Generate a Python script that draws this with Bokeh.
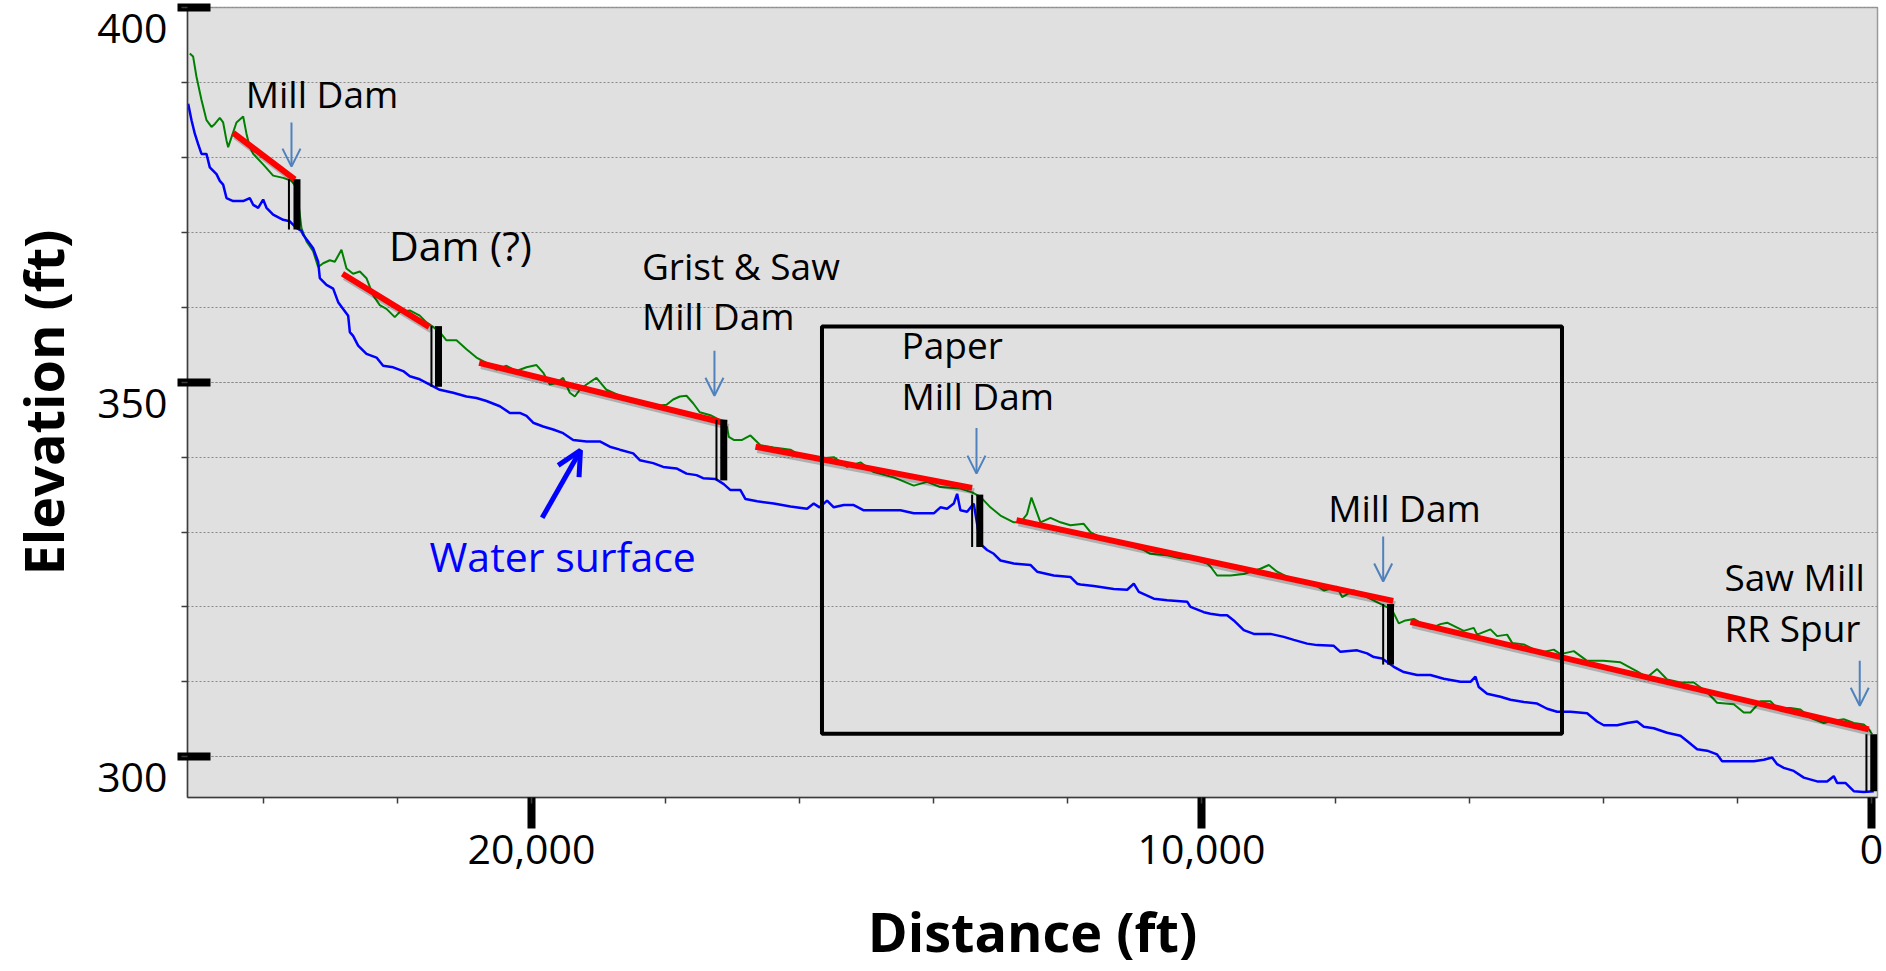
from bokeh.plotting import figure
from bokeh.models import (Range1d, FixedTicker, NumeralTickFormatter, ColumnDataSource,
                          Arrow, OpenHead, LinearAxis)
from bokeh.core.properties import value
from bokeh.embed import file_html
from bokeh.resources import INLINE

# ---------------- data ----------------
ground_ft = [25100, 25050, 25000, 24925, 24850, 24776, 24726, 24652, 24602, 24552, 24527, 24478,
             24403, 24303, 24254, 24204, 24154, 24005, 23856, 23706, 23582, 23507, 23433, 23358,
             23259, 23184, 23109, 23010, 22935, 22836, 22761, 22662, 22562, 22463, 22363, 22264,
             22164, 22040, 21965, 21816, 21667, 21567, 21468, 21368, 21269, 21119, 20970, 20821,
             20671, 20522, 20373, 20224, 20074, 19925, 19826, 19726, 19627, 19527, 19428, 19353,
             19279, 19179, 19030, 18881, 18731, 18582, 18433, 18283, 18184, 17985, 17885, 17786,
             17686, 17587, 17488, 17329, 17180, 17080, 17055, 16981, 16856, 16732, 16583, 16384,
             16135, 15985, 15737, 15488, 15289, 15090, 14891, 14593, 14294, 14095, 13896, 13598,
             13423, 13299, 13150, 13000, 12802, 12700, 12603, 12538, 12403, 12254, 12105, 11956,
             11757, 11657, 11508, 11259, 11010, 10861, 10762, 10513, 10313, 10115, 9916, 9866,
             9767, 9568, 9369, 9120, 8995, 8871, 8672, 8373, 8174, 7975, 7901, 7727, 7528, 7329,
             7155, 7055, 6956, 6831, 6583, 6433, 6334, 6085, 5936, 5886, 5687, 5587, 5438, 5363,
             5189, 4941, 4742, 4642, 4443, 4244, 4000, 3746, 3498, 3348, 3199, 3050, 2851, 2652,
             2453, 2304, 2055, 1906, 1807, 1657, 1508, 1408, 1209, 1060, 911, 712, 563, 413, 264,
             115, 40, -10]
ground_elev = [393.9, 393.5, 390.8, 387.7, 385.0, 384.1, 384.5, 385.3, 384.7, 382.3, 381.4, 382.7,
               384.7, 385.5, 383.2, 381.4, 380.5, 379.1, 377.6, 377.3, 376.9, 376.0, 370.6, 368.8,
               367.5, 365.4, 365.9, 366.3, 366.1, 367.7, 365.2, 364.5, 364.8, 363.9, 361.6, 360.3,
               359.8, 358.7, 359.4, 359.6, 358.9, 358.0, 357.4, 356.7, 355.6, 355.6, 354.4, 353.3,
               352.6, 351.7, 352.2, 351.5, 352.0, 352.3, 351.3, 349.7, 349.9, 350.6, 348.6, 348.1,
               349.0, 349.7, 350.6, 349.0, 348.4, 347.9, 347.5, 347.2, 346.8, 347.0, 347.7, 348.1,
               348.2, 347.2, 346.0, 345.6, 344.9, 344.0, 342.7, 342.3, 342.3, 342.9, 341.6, 341.3,
               341.0, 340.2, 339.8, 340.0, 338.7, 339.3, 338.0, 337.3, 336.2, 336.7, 336.0, 335.8,
               335.3, 334.7, 333.3, 332.2, 331.3, 331.3, 332.4, 334.6, 331.3, 331.9, 331.3, 330.9,
               331.1, 330.0, 329.3, 328.7, 328.0, 327.6, 327.1, 326.9, 326.5, 326.4, 325.8, 325.4,
               324.2, 324.2, 324.4, 325.1, 325.6, 324.7, 323.8, 323.3, 322.2, 322.7, 321.3, 322.2,
               321.3, 320.4, 319.6, 317.8, 318.2, 318.4, 317.1, 317.7, 317.9, 316.8, 317.2, 316.3,
               317.0, 316.1, 316.3, 315.2, 315.0, 313.9, 314.3, 313.7, 314.1, 312.8, 312.8, 312.6,
               311.4, 310.6, 311.7, 310.3, 309.9, 309.9, 308.6, 307.2, 307.0, 305.9, 305.9, 307.4,
               307.4, 306.5, 306.5, 306.3, 305.2, 304.5, 304.8, 305.0, 304.5, 304.3, 303.7, 303.0]

water_ft = [25124, 25074, 25025, 24975, 24925, 24851, 24801, 24701, 24652, 24602, 24552, 24453,
            24303, 24204, 24154, 24079, 24005, 23955, 23856, 23706, 23607, 23507, 23433, 23408,
            23333, 23259, 23184, 23159, 23060, 22960, 22885, 22811, 22736, 22711, 22662, 22587,
            22463, 22313, 22214, 22064, 21915, 21816, 21667, 21517, 21368, 21169, 20970, 20821,
            20671, 20472, 20323, 20174, 20074, 19975, 19826, 19676, 19527, 19378, 19179, 18980,
            18831, 18681, 18482, 18383, 18184, 18034, 17836, 17686, 17537, 17438, 17254, 17130,
            17030, 16881, 16806, 16632, 16384, 16135, 15886, 15787, 15700, 15588, 15488, 15339,
            15190, 15040, 14791, 14493, 14294, 13995, 13896, 13797, 13697, 13647, 13598, 13498,
            13399, 13299, 13200, 13100, 13000, 12802, 12553, 12453, 12205, 11956, 11856, 11806,
            11607, 11309, 11109, 11010, 10935, 10711, 10513, 10214, 10164, 9965, 9866, 9716,
            9617, 9518, 9369, 9219, 8971, 8772, 8622, 8423, 8274, 8025, 7926, 7677, 7528, 7428,
            7304, 7130, 6981, 6782, 6583, 6384, 6134, 5985, 5911, 5861, 5737, 5537, 5388, 5189,
            4990, 4841, 4692, 4493, 4244, 4095, 3995, 3796, 3647, 3498, 3398, 3249, 3050, 2851,
            2752, 2602, 2453, 2304, 2229, 2055, 1756, 1607, 1483, 1408, 1309, 1160, 1010, 811,
            662, 563, 513, 389, 264, 115, -35]
water_elev = [387.2, 385.0, 383.2, 381.8, 380.5, 380.5, 378.7, 377.8, 376.9, 376.4, 374.6, 374.2,
              374.2, 374.6, 373.7, 373.3, 374.4, 373.3, 372.4, 371.7, 371.5, 370.6, 370.2, 369.7,
              368.8, 367.9, 366.1, 363.9, 363.0, 362.5, 360.7, 359.8, 358.9, 356.7, 356.2, 354.9,
              353.8, 353.3, 352.2, 352.0, 351.5, 350.8, 350.4, 349.7, 349.0, 348.6, 348.1, 347.9,
              347.5, 346.8, 345.9, 345.9, 345.5, 344.6, 344.1, 343.7, 343.2, 342.3, 342.1, 342.1,
              341.4, 341.0, 340.5, 339.6, 339.2, 338.7, 338.5, 337.8, 337.6, 337.2, 337.1, 336.4,
              335.6, 335.6, 334.4, 334.1, 333.8, 333.4, 333.1, 333.8, 333.3, 334.2, 333.3, 333.6,
              333.6, 332.9, 332.9, 332.9, 332.5, 332.5, 333.3, 333.1, 333.8, 335.1, 332.9, 332.7,
              333.8, 328.4, 327.6, 327.1, 326.2, 325.8, 325.6, 324.7, 324.2, 324.0, 323.1, 323.0,
              322.8, 322.4, 322.3, 323.1, 322.0, 321.1, 320.9, 320.7, 320.0, 319.3, 319.1, 318.9,
              318.9, 318.2, 316.9, 316.4, 316.4, 316.0, 315.6, 315.1, 314.9, 314.8, 314.0, 314.2,
              313.8, 313.3, 313.1, 312.0, 311.3, 310.9, 310.9, 310.4, 310.0, 310.0, 310.7, 309.3,
              308.4, 308.0, 307.6, 307.3, 307.1, 306.4, 306.0, 306.0, 305.8, 304.7, 304.2, 304.2,
              304.5, 304.7, 304.0, 303.8, 303.2, 302.8, 302.1, 301.0, 300.8, 300.3, 299.4, 299.4,
              299.4, 299.6, 299.9, 299.0, 298.5, 298.1, 297.2, 296.7, 296.7, 297.4, 296.5, 296.5,
              295.4, 295.3, 295.4]

# red grade lines between dams
grade_ft0 = [24452, 22821, 20781, 16657, 12761, 6881]
grade_el0 = [383.3, 364.5, 352.6, 341.4, 331.6, 318.0]
grade_ft1 = [23533, 21527, 17085, 13423, 7139, 40]
grade_el1 = [377.1, 357.4, 344.5, 335.9, 320.8, 303.65]

# dams (thin + thick vertical marks)
dam_thin_ft = [23620, 21493, 17239, 13423, 7288, 75]
dam_thick_ft = [23500, 21388, 17130, 13309, 7179, -34]
dam_top = [377.1, 357.5, 345.0, 335.0, 320.4, 303.0]
dam_bottom = [370.4, 349.4, 336.9, 328.0, 312.3, 295.4]

# small arrows pointing to dams
arrow_ft = [23582, 17269, 13358, 7288, 175]
arrow_top = [384.7, 354.2, 343.9, 329.4, 312.8]
arrow_bottom = [378.8, 348.2, 337.8, 323.4, 306.8]

# annotation texts
label_text = ["Mill Dam", "Grist & Saw", "Mill Dam", "Paper", "Mill Dam", "Mill Dam", "Saw Mill", "RR Spur"]
label_ft = [23127, 18351, 18351, 14478, 14478, 6970, 2194, 2194]
label_elev = [388.5, 365.6, 358.9, 355.1, 348.2, 333.3, 324.1, 317.2]
label_align = ["center", "left", "left", "left", "left", "center", "left", "left"]

dam_q_text = ["Dam (?)"]
dam_q_ft = [21060]
dam_q_elev = [368.4]

water_text = ["Water surface"]
water_text_ft = [21522]
water_text_elev = [326.8]
water_arrow_ft = [19840, 19269]
water_arrow_elev = [331.9, 340.9]

# highlight box
box_ft = [15664, 4619]
box_elev = [303.05, 357.46]

x_major = [0, 10000, 20000]
x_minor = list(range(0, 26000, 2000))
y_major = [300, 350, 400]
y_minor = list(range(300, 401, 10))

X_START, X_END = 25134, -90
Y_START, Y_END = 294.55, 400.05
LABEL_SHIFT = 2.8   # y tick labels sit a little below their ticks in the original

# ---------------- figure ----------------
p = figure(width=1886, height=971, output_backend="svg", toolbar_location=None,
           x_range=Range1d(X_START, X_END), y_range=Range1d(Y_START, Y_END),
           min_border_left=187, min_border_right=9, min_border_top=7, min_border_bottom=174)
p.extra_y_ranges = {"lab": Range1d(Y_START + LABEL_SHIFT, Y_END + LABEL_SHIFT)}
p.background_fill_color = "#e0e0e0"
p.border_fill_color = "white"
p.outline_line_color = "#9a9a9a"
p.outline_line_width = 1.5

p.xgrid.visible = False
p.ygrid.ticker = FixedTicker(ticks=y_major, minor_ticks=y_minor)
p.ygrid.grid_line_color = "#8a8a8a"
p.ygrid.grid_line_dash = "2 2"
p.ygrid.grid_line_width = 1
p.ygrid.minor_grid_line_color = "#8a8a8a"
p.ygrid.minor_grid_line_dash = "2 2"
p.ygrid.minor_grid_line_width = 1

for ax in (p.xaxis[0], p.yaxis[0]):
    ax.axis_line_color = "#3c3c3c"
    ax.axis_line_width = 1.5
    ax.major_tick_line_color = "black"
    ax.major_tick_line_width = 8
    ax.minor_tick_line_color = "#3c3c3c"
    ax.minor_tick_line_width = 1.5
    ax.minor_tick_in = 0
    ax.minor_tick_out = 6
    ax.major_label_text_font = "Open Sans"
    ax.major_label_text_font_size = "41px"
    ax.major_label_text_color = "black"

xa = p.xaxis[0]
xa.ticker = FixedTicker(ticks=x_major, minor_ticks=x_minor)
xa.formatter = NumeralTickFormatter(format="0,0")
xa.major_tick_in = 0
xa.major_tick_out = 31
xa.major_label_standoff = 6
xa.axis_label = "Distance (ft)"
xa.axis_label_standoff = 27
xa.axis_label_text_font = "Open Sans"
xa.axis_label_text_font_style = "bold"
xa.axis_label_text_font_size = "54px"
xa.axis_label_text_color = "black"

ya = p.yaxis[0]
ya.ticker = FixedTicker(ticks=y_major, minor_ticks=y_minor)
ya.major_tick_in = 23
ya.major_tick_out = 10
ya.major_label_standoff = 0
ya.major_label_text_font_size = "0px"
ya.major_label_text_color = None

# labelling axis (no line / ticks), drawn on a slightly shifted range
la = LinearAxis(y_range_name="lab", ticker=FixedTicker(ticks=y_major, minor_ticks=[]))
la.axis_line_color = None
la.major_tick_line_color = None
la.minor_tick_line_color = None
la.major_tick_in = 0
la.major_tick_out = 0
la.minor_tick_in = 0
la.minor_tick_out = 0
la.major_label_standoff = 10
la.major_label_text_font = "Open Sans"
la.major_label_text_font_size = "41px"
la.major_label_text_color = "black"
la.axis_label = "Elevation (ft)"
la.axis_label_standoff = 14
la.axis_label_text_font = "Open Sans"
la.axis_label_text_font_style = "bold"
la.axis_label_text_font_size = "54px"
la.axis_label_text_color = "black"
p.add_layout(la, "left")

# profiles
p.line(ground_ft, ground_elev, line_color="#008000", line_width=2)
p.line(water_ft, water_elev, line_color="#0000ff", line_width=2.5)

# grade lines with soft shadow
shadow_src = ColumnDataSource(dict(x0=[f - 30 for f in grade_ft0], y0=[e - 0.45 for e in grade_el0],
                                   x1=[f - 30 for f in grade_ft1], y1=[e - 0.45 for e in grade_el1]))
p.segment("x0", "y0", "x1", "y1", source=shadow_src, line_color="black", line_alpha=0.22, line_width=6)
p.segment(grade_ft0, grade_el0, grade_ft1, grade_el1, line_color="#ff0000", line_width=6)

# dams
p.segment(dam_thin_ft, dam_top, dam_thin_ft, dam_bottom, line_color="black", line_width=2)
p.segment(dam_thick_ft, dam_top, dam_thick_ft, dam_bottom, line_color="black", line_width=7)

# box
p.quad(left=[box_ft[0]], right=[box_ft[1]], bottom=[box_elev[0]], top=[box_elev[1]],
       fill_color=None, line_color="black", line_width=4)

# small arrows
arr_src = ColumnDataSource(dict(x=arrow_ft, y0=arrow_top, y1=arrow_bottom))
p.add_layout(Arrow(end=OpenHead(size=18, line_color="#4f81bd", line_width=2),
                   x_start="x", y_start="y0", x_end="x", y_end="y1", source=arr_src,
                   line_color="#4f81bd", line_width=2))

# water surface arrow
p.add_layout(Arrow(end=OpenHead(size=24, line_color="#0000ff", line_width=5),
                   x_start=water_arrow_ft[0], y_start=water_arrow_elev[0],
                   x_end=water_arrow_ft[1], y_end=water_arrow_elev[1],
                   line_color="#0000ff", line_width=5))

# texts
lab_src = ColumnDataSource(dict(x=label_ft, y=label_elev, t=label_text, a=label_align))
p.text("x", "y", text="t", text_align="a", source=lab_src, text_baseline="alphabetic",
       text_font=value("Open Sans"), text_font_size="37px", text_color="black")
p.text(dam_q_ft, dam_q_elev, text=dam_q_text, text_align="center", text_baseline="alphabetic",
       text_font=value("Open Sans"), text_font_size="41px", text_color="black")
p.text(water_text_ft, water_text_elev, text=water_text, text_align="left", text_baseline="alphabetic",
       text_font=value("Open Sans"), text_font_size="41px", text_color="#0000ff")

open("out.html", "w").write(file_html(p, INLINE))
